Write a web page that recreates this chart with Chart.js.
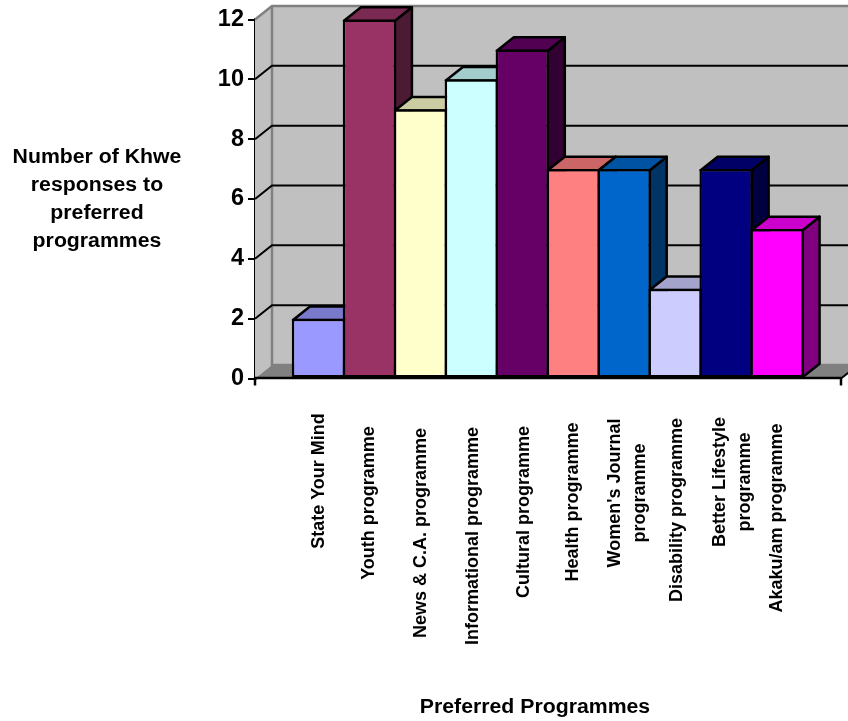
<!DOCTYPE html>
<html><head><meta charset="utf-8">
<style>html,body{margin:0;padding:0;background:#fff}#wrap{position:relative;width:848px;height:721px}canvas{display:block}</style>
<script src="https://cdn.jsdelivr.net/npm/chart.js@4"></script></head>
<body><div id="wrap"><canvas id="c" width="848" height="721"></canvas></div>
<script>
const categories = ["State Your Mind","Youth programme","News & C.A. programme","Informational programme","Cultural programme","Health programme",["Women's Journal","programme"],"Disability programme",["Better Lifestyle","programme"],"Akaku/am programme"];
const values = [2,12,9,10,11,7,7,3,7,5];
const barColors = ["#9999FF","#993366","#FFFFCC","#CCFFFF","#660066","#FF8080","#0066CC","#CCCCFF","#000080","#FF00FF"];
const labelCenters = [481,503,533,536,512,502,493,510,482,518];
const labelShift = [6,5,5.5,6.5,6.5,4.5,8.5,6.7,11,5.2];
const yTitle = ["Number of Khwe","responses to","preferred","programmes"];
const xTitle = "Preferred Programmes";
const yTicks = [0,2,4,6,8,10,12];
const DX=17, DY=13.5, BW=2.5;
const FONT='"Liberation Sans", Arial, sans-serif';

function shade(hex,f){const n=parseInt(hex.slice(1),16);
  return `rgb(${Math.round((n>>16&255)*f)},${Math.round((n>>8&255)*f)},${Math.round((n&255)*f)})`;}

function stretched(ctx,s,cx,base){
  ctx.save();ctx.translate(cx,base);ctx.scale(1.09,1);ctx.fillText(s,0,0);ctx.restore();
}

const scene3d={id:'scene3d',
  beforeDatasetsDraw(chart){
    const {ctx,scales:{x,y}}=chart;
    const L=x.left,R=x.right,B=y.bottom,T=y.top;
    ctx.save();
    ctx.fillStyle='#C0C0C0';
    ctx.fillRect(L+DX,T-DY,R-L,B-T);
    ctx.beginPath();ctx.moveTo(L,T);ctx.lineTo(L+DX,T-DY);ctx.lineTo(L+DX,B-DY);ctx.lineTo(L,B);ctx.closePath();ctx.fill();
    ctx.fillStyle='#808080';
    ctx.beginPath();ctx.moveTo(L,B);ctx.lineTo(L+DX,B-DY);ctx.lineTo(R+DX,B-DY);ctx.lineTo(R,B);ctx.closePath();ctx.fill();
    ctx.strokeStyle='#808080';ctx.lineWidth=2.5;
    ctx.beginPath();ctx.moveTo(L,T);ctx.lineTo(L+DX,T-DY);ctx.lineTo(R+DX,T-DY);
    ctx.moveTo(L+DX,T-DY);ctx.lineTo(L+DX,B-DY);ctx.lineTo(R+DX,B-DY);ctx.stroke();
    ctx.strokeStyle='#000';ctx.lineWidth=2;
    yTicks.forEach(v=>{ if(v===0||v===12) return; const p=y.getPixelForValue(v);
      ctx.beginPath();ctx.moveTo(L,p);ctx.lineTo(L+DX,p-DY);ctx.lineTo(R+DX,p-DY);ctx.stroke();});
    ctx.beginPath();ctx.moveTo(R,B);ctx.lineTo(R+DX,B-DY);ctx.stroke();
    const meta=chart.getDatasetMeta(0);
    meta.data.forEach((bar,i)=>{
      const c=barColors[i],hw=bar.width/2,h=BW/2,xl=bar.x-hw+h,xr=bar.x+hw-h,t=bar.y+h,b=B-h;
      ctx.lineWidth=BW;ctx.strokeStyle='#000';ctx.lineJoin='round';
      ctx.fillStyle=shade(c,0.5);
      ctx.beginPath();ctx.moveTo(xr,t);ctx.lineTo(xr+DX,t-DY);ctx.lineTo(xr+DX,b-DY);ctx.lineTo(xr,b);ctx.closePath();ctx.fill();ctx.stroke();
      ctx.fillStyle=shade(c,0.8);
      ctx.beginPath();ctx.moveTo(xl,t);ctx.lineTo(xl+DX,t-DY);ctx.lineTo(xr+DX,t-DY);ctx.lineTo(xr,t);ctx.closePath();ctx.fill();ctx.stroke();
    });
    ctx.restore();
  },
  afterDraw(chart){
    const {ctx,scales:{x,y}}=chart;
    ctx.save();
    ctx.fillStyle='#000';
    ctx.strokeStyle='#000';ctx.lineWidth=2.5;
    ctx.beginPath();ctx.moveTo(x.left-1,y.bottom-0.5);ctx.lineTo(x.right,y.bottom-0.5);ctx.stroke();
    [x.left,x.right].forEach(p=>{ctx.beginPath();ctx.moveTo(p,y.bottom-1);ctx.lineTo(p,y.bottom+7);ctx.stroke();});
    ctx.font='bold 18px '+FONT;
    ctx.textAlign='center';ctx.textBaseline='alphabetic';
    categories.forEach((lab,i)=>{
      const lines=Array.isArray(lab)?lab:[lab];
      const px=x.getPixelForValue(i)+labelShift[i];
      lines.forEach((s,k)=>{
        ctx.save();
        ctx.translate(px+(k-(lines.length-1)/2)*25,labelCenters[i]);
        ctx.rotate(-Math.PI/2);
        ctx.fillText(s,0,0);
        ctx.restore();
      });
    });
    ctx.font='bold 19.5px '+FONT;ctx.textAlign='center';ctx.textBaseline='alphabetic';
    yTitle.forEach((s,k)=>stretched(ctx,s,97,163.3+k*28));
    stretched(ctx,xTitle,535,712.7);
    ctx.restore();
  }};

new Chart(document.getElementById('c'),{
  type:'bar',
  data:{datasets:[{
    data:values.map((v,i)=>({x:i,y:v})),
    backgroundColor:barColors,borderColor:'#000',borderWidth:BW,borderSkipped:false,
    barPercentage:1.049,categoryPercentage:1
  }]},
  plugins:[scene3d],
  options:{responsive:false,animation:false,
    layout:{padding:{top:19.5,right:7,left:0,bottom:0}},
    plugins:{legend:{display:false},tooltip:{enabled:false}},
    scales:{
      x:{type:'linear',min:-1.246,max:10.254,
        afterFit(s){s.height=342.5;},
        afterBuildTicks(s){s.ticks=[];},
        grid:{display:false},
        border:{display:false},
        ticks:{display:false}
      },
      y:{min:0,max:12,
        afterFit(s){s.width=255;},
        afterBuildTicks(s){s.ticks=yTicks.map(v=>({value:v}));},
        grid:{drawOnChartArea:false,color:'#000',lineWidth:2,tickLength:7},
        border:{color:'#000',width:2.5},
        ticks:{color:'#000',font:{family:FONT,size:23.5,weight:'bold'},padding:4}
      }
    }
  }
});
</script></body></html>
